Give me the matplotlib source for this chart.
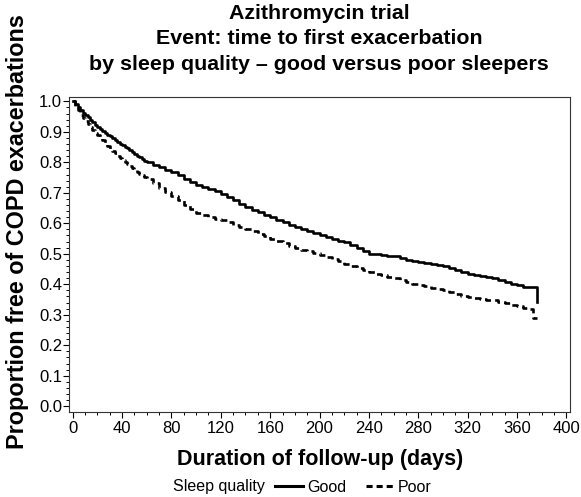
import matplotlib
matplotlib.use('Agg')
import matplotlib.pyplot as plt
from matplotlib.ticker import MultipleLocator
from matplotlib.lines import Line2D

plt.rcParams['font.family'] = ['Liberation Sans', 'DejaVu Sans']

# Kaplan-Meier estimates (day, proportion event-free)
good_days = [0, 2, 4, 6, 8, 10, 12, 14, 16, 18, 20, 22, 24, 26, 28, 30, 32, 34, 36, 38,
             40, 42, 44, 46, 48, 50, 52, 54, 56, 58, 60, 65, 70, 75, 80, 85, 90, 95,
             100, 105, 110, 115, 120, 125, 130, 135, 140, 145, 150, 155, 160, 165, 170, 175,
             180, 185, 190, 195, 200, 205, 210, 215, 220, 225, 230, 235, 240, 245, 250, 255,
             260, 265, 270, 275, 280, 285, 290, 295, 300, 305, 310, 315, 320, 325, 330, 335,
             340, 345, 350, 355, 360, 365, 376, 376]
good_surv = [1.0, 0.990, 0.980, 0.970, 0.962, 0.955, 0.947, 0.939, 0.931, 0.923,
             0.916, 0.910, 0.903, 0.897, 0.891, 0.885, 0.879, 0.873, 0.867, 0.861,
             0.856, 0.851, 0.846, 0.840, 0.834, 0.828, 0.822, 0.817, 0.811, 0.805,
             0.800, 0.792, 0.784, 0.776, 0.768, 0.757, 0.746, 0.735, 0.725, 0.718, 0.712, 0.705,
             0.697, 0.686, 0.675, 0.664, 0.653, 0.645, 0.637, 0.628, 0.620, 0.612, 0.604, 0.596,
             0.588, 0.581, 0.574, 0.567, 0.562, 0.556, 0.549, 0.543, 0.538, 0.528, 0.518, 0.509,
             0.500, 0.498, 0.496, 0.494, 0.492, 0.486, 0.481, 0.477, 0.474, 0.470, 0.467, 0.464,
             0.460, 0.453, 0.446, 0.440, 0.435, 0.432, 0.428, 0.425, 0.422, 0.415, 0.408, 0.402,
             0.396, 0.391, 0.391, 0.342]

poor_days = [0, 2, 4, 6, 8, 10, 12, 14, 16, 18, 20, 22, 24, 26, 28, 30, 32, 34, 36, 38,
             40, 42, 44, 46, 48, 50, 52, 54, 56, 58, 60, 65, 70, 75, 80, 85, 90, 95,
             100, 105, 110, 115, 120, 125, 130, 135, 140, 145, 150, 155, 160, 165, 170, 175,
             180, 185, 190, 195, 200, 205, 210, 215, 220, 225, 230, 235, 240, 245, 250, 255,
             260, 265, 270, 275, 280, 285, 290, 295, 300, 305, 310, 315, 320, 325, 330, 335,
             340, 345, 350, 355, 360, 365, 370, 373, 376]
poor_surv = [1.0, 0.985, 0.970, 0.955, 0.945, 0.935, 0.925, 0.915, 0.906, 0.897,
             0.889, 0.881, 0.872, 0.863, 0.854, 0.845, 0.837, 0.829, 0.821, 0.814,
             0.807, 0.800, 0.793, 0.787, 0.780, 0.774, 0.768, 0.763, 0.757, 0.751,
             0.746, 0.731, 0.717, 0.703, 0.690, 0.675, 0.660, 0.646, 0.635, 0.628, 0.621, 0.615,
             0.610, 0.603, 0.596, 0.589, 0.582, 0.574, 0.566, 0.558, 0.550, 0.542, 0.535, 0.527,
             0.520, 0.514, 0.508, 0.502, 0.496, 0.489, 0.482, 0.475, 0.468, 0.461, 0.454, 0.447,
             0.440, 0.435, 0.430, 0.424, 0.419, 0.413, 0.408, 0.402, 0.398, 0.393, 0.388, 0.384,
             0.380, 0.374, 0.368, 0.363, 0.358, 0.355, 0.352, 0.350, 0.348, 0.343, 0.338, 0.333,
             0.328, 0.323, 0.318, 0.288, 0.288]

fig = plt.figure(figsize=(5.81, 4.97), dpi=100)
ax = fig.add_axes([0.1188, 0.1716, 0.8623, 0.6325])

ax.plot(good_days, good_surv, color='black', lw=1.9, drawstyle='steps-post')
ax.plot(poor_days, poor_surv, color='black', lw=1.9, drawstyle='steps-post',
        linestyle=(0, (2.6, 1.6)))

ax.set_xlim(-3, 403)
ax.set_ylim(-0.018, 1.013)
ax.xaxis.set_major_locator(MultipleLocator(40))
ax.xaxis.set_minor_locator(MultipleLocator(10))
ax.yaxis.set_major_locator(MultipleLocator(0.1))
ax.yaxis.set_minor_locator(MultipleLocator(0.02))
ax.yaxis.set_major_formatter(plt.FuncFormatter(lambda v, p: '%.1f' % v))
ax.tick_params(which='major', length=4, width=0.8, labelsize=12)
ax.tick_params(axis='y', which='major', pad=1)
ax.tick_params(axis='x', which='major', pad=3)
ax.tick_params(which='minor', length=2, width=0.7)
for s in ax.spines.values():
    s.set_linewidth(0.8)
    s.set_color('#333333')

fig.text(320 / 581, 1 - 459 / 497, 'Duration of follow-up (days)',
         ha='center', va='center', fontsize=15.5, fontweight='bold')
fig.text(18 / 581, 1 - 232 / 497, 'Proportion free of COPD exacerbations',
         ha='center', va='center', rotation=90, fontsize=16.8, fontweight='bold')

fig.text(319 / 581, 1 - 4 / 497,
         'Azithromycin trial\nEvent: time to first exacerbation\n'
         'by sleep quality \u2013 good versus poor sleepers',
         ha='center', va='top', fontsize=15.4, fontweight='bold', linespacing=1.42)

fig.text(173 / 581, 1 - 487 / 497, 'Sleep quality', ha='left', va='center', fontsize=11.5)
handles = [Line2D([], [], color='black', lw=2.2),
           Line2D([], [], color='black', lw=2.2, linestyle=(0, (2.0, 1.3)))]
fig.legend(handles, ['Good', 'Poor'], loc='center left', bbox_to_anchor=(275 / 581, 1 - 487 / 497),
           ncol=2, frameon=False, fontsize=11.5, handlelength=1.75, handletextpad=0.25,
           columnspacing=1.25, borderpad=0, borderaxespad=0)

fig.savefig('out.png', dpi=100)
